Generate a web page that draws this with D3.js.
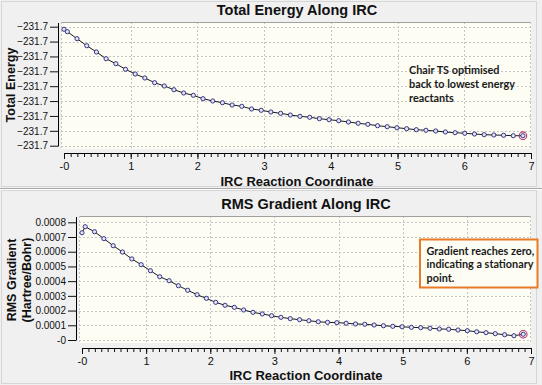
<!DOCTYPE html>
<html>
<head>
<meta charset="utf-8">
<script src="https://cdn.jsdelivr.net/npm/d3@7"></script>
<style>
  body { margin: 0; background: #f0f0f0; }
  svg { display: block; font-family: "Liberation Sans", Arial, sans-serif; }
  .note { font-family: Lato, "Open Sans", sans-serif; font-weight: bold; font-size: 12px; fill: #1a1a1a; }
</style>
</head>
<body>
<svg id="chart" width="542" height="385"></svg>
<script>
// IRC steps (same for both plots)
const ircX = [0, 0.05, 0.195, 0.341, 0.486, 0.631, 0.777, 0.922, 1.067, 1.212,
  1.358, 1.503, 1.648, 1.794, 1.939, 2.084, 2.230, 2.375, 2.520, 2.665,
  2.811, 2.956, 3.101, 3.247, 3.392, 3.537, 3.683, 3.828, 3.973, 4.118,
  4.264, 4.409, 4.554, 4.700, 4.845, 4.990, 5.136, 5.281, 5.426, 5.571,
  5.717, 5.862, 6.007, 6.153, 6.298, 6.443, 6.589, 6.734, 6.879];

const totalEnergy = [-231.690087, -231.690168, -231.690403, -231.690639, -231.690850,
  -231.691076, -231.691244, -231.691432, -231.691590, -231.691724,
  -231.691882, -231.691993, -231.692118, -231.692229, -231.692306,
  -231.692420, -231.692497, -231.692555, -231.692632, -231.692676,
  -231.692766, -231.692810, -231.692867, -231.692911, -231.692968,
  -231.693012, -231.693045, -231.693092, -231.693126, -231.693160,
  -231.693203, -231.693247, -231.693281, -231.693328, -231.693361,
  -231.693395, -231.693429, -231.693462, -231.693482, -231.693506,
  -231.693539, -231.693563, -231.693583, -231.693607, -231.693630,
  -231.693640, -231.693650, -231.693664, -231.693664];

const rmsGradient = [0.000729, 0.000770, 0.000736, 0.000689, 0.000641,
  0.000598, 0.000551, 0.000512, 0.000471, 0.000430,
  0.000403, 0.000369, 0.000338, 0.000308, 0.000283,
  0.000256, 0.000236, 0.000222, 0.000204, 0.000188,
  0.000177, 0.000165, 0.000154, 0.000145, 0.000138,
  0.000131, 0.000124, 0.000120, 0.000118, 0.000114,
  0.000109, 0.000107, 0.000102, 0.000097, 0.000093,
  0.000090, 0.000086, 0.000084, 0.000080, 0.000075,
  0.000073, 0.000068, 0.000063, 0.000056, 0.000050,
  0.000043, 0.000036, 0.000029, 0.000039];

const xTicks = [0, 1, 2, 3, 4, 5, 6, 7];
const xTickLabels = ["-0", "1", "2", "3", "4", "5", "6", "7"];
const energyTicks = [-231.694, -231.6935, -231.693, -231.6925, -231.692, -231.6915, -231.691, -231.6905, -231.690];
const gradientTicks = [0, 0.0001, 0.0002, 0.0003, 0.0004, 0.0005, 0.0006, 0.0007, 0.0008];
const gradientTickLabels = ["-0", "0.0001", "0.0002", "0.0003", "0.0004", "0.0005", "0.0006", "0.0007", "0.0008"];

const svg = d3.select("#chart");

// panel frames
svg.append("rect").attr("x", 1.5).attr("y", 1.5).attr("width", 535).attr("height", 185)
  .attr("fill", "#f0f0f0").attr("stroke", "#d6d6d6");
svg.append("line").attr("x1", 0).attr("x2", 542).attr("y1", 188.5).attr("y2", 188.5).attr("stroke", "#a8a8a8");
svg.append("line").attr("x1", 0).attr("x2", 542).attr("y1", 189.5).attr("y2", 189.5).attr("stroke", "#ffffff");
svg.append("rect").attr("x", 1.5).attr("y", 190.5).attr("width", 535).attr("height", 193)
  .attr("fill", "#f0f0f0").attr("stroke", "#d6d6d6");

function drawPanel(cfg) {
  const x = d3.scaleLinear().domain([0, 7]).range(cfg.xRange);
  const y = d3.scaleLinear().domain(cfg.yDomain).range(cfg.yRange);
  const g = svg.append("g");
  const [px0, px1, py0, py1] = cfg.plotBox;

  g.append("rect").attr("x", px0).attr("y", py0).attr("width", px1 - px0).attr("height", py1 - py0)
    .attr("fill", "#fdfdf3");

  // grid
  g.selectAll(".vg").data(xTicks.slice(1, 7)).enter().append("line")
    .attr("x1", d => Math.round(x(d)) + 0.5).attr("x2", d => Math.round(x(d)) + 0.5)
    .attr("y1", py0).attr("y2", py1)
    .attr("stroke", "#c4c4c4").attr("stroke-dasharray", "2,2");
  g.selectAll(".hg").data(cfg.yTicks).enter().append("line")
    .attr("x1", px0).attr("x2", px1)
    .attr("y1", d => Math.round(y(d)) + 0.5).attr("y2", d => Math.round(y(d)) + 0.5)
    .attr("stroke", "#c4c4c4").attr("stroke-dasharray", "2,2");
  g.append("line").attr("x1", px0).attr("x2", px1).attr("y1", py0 + 0.5).attr("y2", py0 + 0.5).attr("stroke", "#a0a0a0");
  g.append("line").attr("x1", px1 - 0.5).attr("x2", px1 - 0.5).attr("y1", py0).attr("y2", py1)
    .attr("stroke", "#c4c4c4").attr("stroke-dasharray", "2,2");
  g.append("line").attr("x1", px0 + 0.5).attr("x2", px0 + 0.5).attr("y1", py0).attr("y2", py1)
    .attr("stroke", "#c4c4c4").attr("stroke-dasharray", "2,2");

  // y axis
  const yAxis = g.append("g").attr("transform", `translate(${cfg.yAxisX},0)`)
    .call(d3.axisLeft(y).tickValues(cfg.yTicks).tickSize(8).tickPadding(2)
      .tickFormat((d, i) => cfg.yTickLabels[i]));
  yAxis.select(".domain").attr("d", `M0.5,${py0 + 1}V${Math.round(y(cfg.yDomain[0])) + 0.5}`);
  yAxis.selectAll("text").attr("font-size", 10).attr("fill", "#111").attr("font-family", "Liberation Sans, Arial");
  yAxis.selectAll("line").attr("stroke", "#111");

  // x axis: minor and major ticks
  const minor = d3.range(0, 71).map(i => i / 10);
  const xMinor = g.append("g").attr("transform", `translate(0,${cfg.xAxisY})`)
    .call(d3.axisBottom(x).tickValues(minor).tickSize(4).tickFormat(""));
  xMinor.select(".domain").attr("d", `M${cfg.xRange[0]},0.5H${cfg.xRange[1]}`);
  const xAxis = g.append("g").attr("transform", `translate(0,${cfg.xAxisY})`)
    .call(d3.axisBottom(x).tickValues(xTicks).tickSize(6).tickPadding(3)
      .tickFormat((d, i) => xTickLabels[i]));
  xAxis.select(".domain").remove();
  g.selectAll("text").attr("font-size", 10).attr("font-family", "Liberation Sans, Arial");
  xAxis.selectAll("text").attr("font-size", 11).attr("fill", "#111");
  g.selectAll(".tick line").attr("stroke", "#111");

  // series
  const line = d3.line().x((d, i) => x(ircX[i])).y(d => y(d));
  g.append("path").datum(cfg.values).attr("d", line)
    .attr("fill", "none").attr("stroke", "#000").attr("stroke-width", 0.9);
  g.selectAll(".pt").data(cfg.values).enter().append("circle")
    .attr("cx", (d, i) => x(ircX[i])).attr("cy", d => y(d)).attr("r", 2.1)
    .attr("fill", "#e4e4f6").attr("stroke", "#24247a").attr("stroke-width", 0.9);
  const n = cfg.values.length - 1;
  g.append("circle").attr("cx", x(ircX[n])).attr("cy", y(cfg.values[n])).attr("r", 3.8)
    .attr("fill", "none").attr("stroke", "#b8306e").attr("stroke-width", 1.1);

  // titles
  svg.append("text").attr("x", cfg.titleX).attr("y", cfg.titleY).attr("text-anchor", "middle")
    .attr("font-size", 14.5).attr("font-weight", "bold").attr("fill", "#111").text(cfg.title);
  svg.append("text").attr("x", cfg.titleX).attr("y", cfg.xLabelY).attr("text-anchor", "middle")
    .attr("font-size", 13).attr("font-weight", "bold").attr("fill", "#111").text("IRC Reaction Coordinate");
  cfg.yLabel.forEach((t, i) => {
    svg.append("text")
      .attr("transform", `translate(${cfg.yLabelX[i]},${cfg.yLabelMid}) rotate(-90)`)
      .attr("text-anchor", "middle").attr("font-size", 12.5).attr("font-weight", "bold")
      .attr("fill", "#111").text(t);
  });
}

drawPanel({
  values: totalEnergy,
  xRange: [64, 531], yDomain: [-231.694, -231.690], yRange: [145.7, 26.7],
  plotBox: [61, 531, 22, 149],
  yTicks: energyTicks, yTickLabels: energyTicks.map(d3.format(".1f")),
  yAxisX: 58, xAxisY: 153,
  title: "Total Energy Along IRC", titleX: 297, titleY: 15, xLabelY: 186,
  yLabel: ["Total Energy"], yLabelX: [15], yLabelMid: 85
});

drawPanel({
  values: rmsGradient,
  xRange: [82, 531], yDomain: [0, 0.0008], yRange: [340, 222.3],
  plotBox: [79, 531, 216, 343],
  yTicks: gradientTicks, yTickLabels: gradientTickLabels,
  yAxisX: 76, xAxisY: 348,
  title: "RMS Gradient Along IRC", titleX: 306, titleY: 209, xLabelY: 380,
  yLabel: ["RMS Gradient", "(Hartree/Bohr)"], yLabelX: [16, 30.5], yLabelMid: 280
});

// annotations, squeezed horizontally to look like the narrow original font
function note(lines, x0, y0, step, widest) {
  const g = svg.append("g");
  const t = g.selectAll("text").data(lines).enter().append("text").attr("class", "note")
    .attr("x", 0).attr("y", (d, i) => i * step).text(d => d);
  const w = d3.max(t.nodes(), n => n.getComputedTextLength());
  g.attr("transform", `translate(${x0},${y0}) scale(${widest / w},1)`);
}

note(["Chair TS optimised", "back to lowest energy", "reactants"], 409, 74, 14, 106);

svg.append("rect").attr("x", 420).attr("y", 239.5).attr("width", 117.5).attr("height", 48)
  .attr("fill", "#fdfdf3").attr("stroke", "#e87a28").attr("stroke-width", 2);
note(["Gradient reaches zero,", "indicating a stationary", "point."], 426.5, 255, 13.3, 108);
</script>
</body>
</html>
